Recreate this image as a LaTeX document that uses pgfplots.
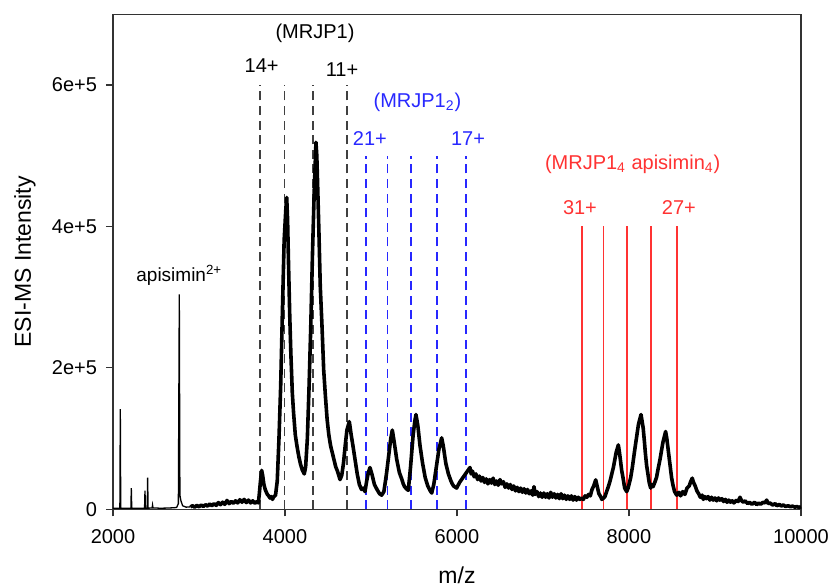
\documentclass[border=0pt]{standalone}
\usepackage{pgfplots}
\pgfplotsset{compat=1.18}
\usepackage{fontspec}
\setmainfont{Liberation Sans}
\definecolor{pkblue}{RGB}{40,40,255}
\definecolor{pkred}{RGB}{255,50,50}
\tikzset{mydashed/.style={dash pattern=on 4.5pt off 2.8pt}}

\begin{document}
\begin{tikzpicture}
% page = 832x588 px at 0.5pt per px
\useasboundingbox (-56.5pt,-39.35pt) rectangle (359.5pt,254.65pt);
\begin{axis}[
  at={(0,0)}, anchor=south west,
  scale only axis, width=344pt, height=247.5pt,
  xmin=2000, xmax=10000, ymin=0, ymax=7e5,
  axis line style={black!80, line width=0.6pt},
  tick style={black!80, line width=0.6pt},
  tick align=outside, tick pos=left,
  major tick length=3.5pt,
  xtick={2000,4000,6000,8000,10000},
  xticklabels={2000,4000,6000,8000,10000},
  scaled x ticks=false,
  ytick={0,2e5,4e5,6e5},
  yticklabels={0,2e+5,4e+5,6e+5},
  scaled y ticks=false,
  ticklabel style={font=\fontsize{10}{12}\selectfont},
  xticklabel style={yshift=-3pt},
  yticklabel style={xshift=-1pt},
  xlabel={m/z}, ylabel={ESI-MS Intensity},
  label style={font=\fontsize{11.5}{13}\selectfont},
  xlabel style={at={(axis description cs:0.5,-0.133)}, anchor=center},
  ylabel style={at={(axis description cs:-0.128,0.5)}, anchor=center},
  clip=false,
]
% MRJP1 charge states 14+ .. 11+
\addplot [black!75, mydashed, line width=0.8pt] coordinates {(3708,0) (3708,6e5)};
\addplot [black!75, mydashed, line width=0.8pt] coordinates {(3993,0) (3993,6e5)};
\addplot [black!75, mydashed, line width=0.8pt] coordinates {(4326,0) (4326,6e5)};
\addplot [black!75, mydashed, line width=0.8pt] coordinates {(4719,0) (4719,6e5)};
% MRJP1 dimer 21+ .. 17+
\addplot [pkblue, mydashed, line width=0.8pt] coordinates {(4944,0) (4944,5e5)};
\addplot [pkblue, mydashed, line width=0.8pt] coordinates {(5191,0) (5191,5e5)};
\addplot [pkblue, mydashed, line width=0.8pt] coordinates {(5464,0) (5464,5e5)};
\addplot [pkblue, mydashed, line width=0.8pt] coordinates {(5768,0) (5768,5e5)};
\addplot [pkblue, mydashed, line width=0.8pt] coordinates {(6107,0) (6107,5e5)};
% MRJP1_4 apisimin_4 31+ .. 27+
\addplot [pkred, line width=0.85pt] coordinates {(7450,0) (7450,4e5)};
\addplot [pkred, line width=0.85pt] coordinates {(7702,0) (7702,4e5)};
\addplot [pkred, line width=0.85pt] coordinates {(7973,0) (7973,4e5)};
\addplot [pkred, line width=0.85pt] coordinates {(8252,0) (8252,4e5)};
\addplot [pkred, line width=0.85pt] coordinates {(8555,0) (8555,4e5)};

% low mass part of the spectrum (sharp peaks)
\addplot [black, line width=0.65pt] table {
2000 1500
2050 1500
2080 1500
2085 141800
2090 1500
2150 1500
2208 1500
2213 29800
2218 1500
2300 1500
2367 1500
2372 26400
2377 1500
2398 1500
2403 44800
2408 1500
2455 2000
2460 6000
2465 2000
2550 1500
2650 1800
2740 2500
2760 8000
2771 304000
2778 20000
2790 12000
2810 5000
2850 3000
2900 3500
};
% noisy high mass part
\addplot [black, line width=1.8pt, line join=round] table {
2900 3500
2925 5000
2950 3000
2975 5500
3000 3500
3025 6000
3050 4000
3075 6500
3100 4500
3125 7500
3150 5000
3175 8000
3200 5500
3225 9500
3250 6500
3275 10000
3300 7000
3325 12500
3350 8000
3375 11000
3400 8500
3425 12000
3450 9000
3475 13500
3500 10000
3525 14000
3550 9500
3575 13000
3600 9000
3625 12000
3650 8500
3675 11000
3690 9000
3700 20000
3715 40000
3729 55000
3740 48000
3755 35000
3770 28000
3780 25000
3795 21000
3810 19000
3825 16000
3840 18000
3855 14000
3865 17000
3890 20000
3910 40000
3930 100000
3950 175000
3970 280000
3990 380000
4010 425000
4020 441000
4030 410000
4040 353000
4055 275000
4068 221000
4085 165000
4100 136000
4120 105000
4140 89000
4160 75000
4180 64000
4200 56000
4224 50000
4240 60000
4260 100000
4280 174000
4300 260000
4320 363000
4340 450000
4360 519000
4370 500000
4380 457000
4395 390000
4410 316000
4430 260000
4450 197000
4470 160000
4490 127000
4510 105000
4530 90000
4560 75000
4590 60000
4610 54000
4620 50000
4630 46000
4640 42000
4660 48000
4680 65000
4700 90000
4720 112000
4748 124000
4770 105000
4790 90000
4815 70000
4840 50000
4865 35000
4890 28000
4910 30000
4930 25000
4950 40000
4970 52000
4988 59000
5010 50000
5040 35000
5070 28000
5085 25000
5100 22000
5124 20000
5150 25000
5180 50000
5210 80000
5230 100000
5248 112000
5270 95000
5300 70000
5330 52000
5360 42000
5375 36000
5390 32000
5420 28000
5434 27000
5460 60000
5490 105000
5510 125000
5523 134000
5545 118000
5570 90000
5600 65000
5630 45000
5660 33000
5690 26000
5706 23000
5730 35000
5760 60000
5790 85000
5822 101000
5840 90000
5870 65000
5900 50000
5930 40000
5945 36000
5960 33000
5996 30000
6030 38000
6070 45000
6110 52000
6151 59000
6165 50000
6180 54000
6200 46000
6220 50000
6240 42000
6260 47000
6280 40000
6300 45000
6320 38000
6340 43000
6360 36000
6380 42000
6400 37000
6420 44000
6440 35000
6460 40000
6480 34000
6500 42000
6520 36000
6540 39000
6560 31000
6580 36000
6600 30000
6620 35000
6640 28000
6660 33000
6680 26000
6700 31000
6720 25000
6740 30000
6760 24000
6780 29000
6800 23000
6820 28000
6840 22000
6860 26000
6880 20000
6895 32000
6910 21000
6930 25000
6950 18000
6970 23000
6990 17000
7010 23000
7030 17000
7050 22000
7070 16000
7090 24000
7110 17000
7130 22000
7150 16000
7170 21000
7190 15000
7210 22000
7230 15000
7250 20000
7270 14000
7290 19000
7310 14000
7330 19000
7350 13000
7370 18000
7390 13000
7410 17000
7430 14000
7450 16000
7470 14000
7490 19000
7510 17000
7530 21000
7550 19000
7570 28000
7590 33000
7613 41600
7635 30000
7650 22000
7670 18000
7685 14000
7702 15600
7720 18000
7740 25000
7760 32000
7780 40000
7800 50000
7820 60000
7850 80000
7876 91000
7890 80000
7900 70000
7915 55000
7930 45000
7950 30000
7973 25000
7990 30000
8000 35000
8020 45000
8040 60000
8060 78000
8080 95000
8110 120000
8140 134000
8165 115000
8180 95000
8190 80000
8205 62000
8220 50000
8235 38000
8252 30000
8265 35000
8280 32000
8300 38000
8320 45000
8340 58000
8360 70000
8395 95000
8426 110000
8440 100000
8450 90000
8465 75000
8480 60000
8495 45000
8510 35000
8530 25000
8555 20000
8580 24000
8600 19000
8625 25000
8650 21000
8675 30000
8700 33000
8720 40000
8736 44000
8750 38000
8770 33000
8790 26000
8810 22000
8830 17000
8850 20000
8864 14000
8880 18000
8900 15000
8920 18000
8940 13000
8960 17000
8980 13000
9000 16000
9020 12000
9040 16000
9058 13000
9080 15000
9100 11000
9120 14000
9140 10000
9160 13000
9180 10000
9200 12000
9220 9000
9250 13000
9270 11000
9291 17000
9310 12000
9330 10000
9350 12000
9380 8000
9400 10000
9430 7000
9460 10000
9485 6500
9510 9000
9530 7000
9560 10000
9580 9000
9601 13000
9620 8000
9640 9000
9670 6000
9700 8000
9720 5000
9750 7000
9770 4500
9794 6100
9820 4000
9850 5000
9880 3500
9900 4500
9930 3000
9950 4000
9975 2500
10000 3700
};

% annotations
\begin{scope}[font=\fontsize{10}{12}\selectfont]
\node[font=\fontsize{9.5}{11}\selectfont] at (axis cs:2771,331000) {apisimin\textsuperscript{2+}};
\node at (axis cs:4349,672800) {(MRJP1)};
\node at (axis cs:3728,628000) {14+};
\node at (axis cs:4663,622000) {11+};
\node[pkblue] at (axis cs:5540,576000) {(MRJP1\textsubscript{2})};
\node[pkblue] at (axis cs:4988,524000) {21+};
\node[pkblue] at (axis cs:6128,524000) {17+};
\node[pkred] at (axis cs:8043,488000) {(MRJP1\textsubscript{4} apisimin\textsubscript{4})};
\node[pkred] at (axis cs:7430,427000) {31+};
\node[pkred] at (axis cs:8581,427000) {27+};
\end{scope}
\end{axis}
\end{tikzpicture}
\end{document}
